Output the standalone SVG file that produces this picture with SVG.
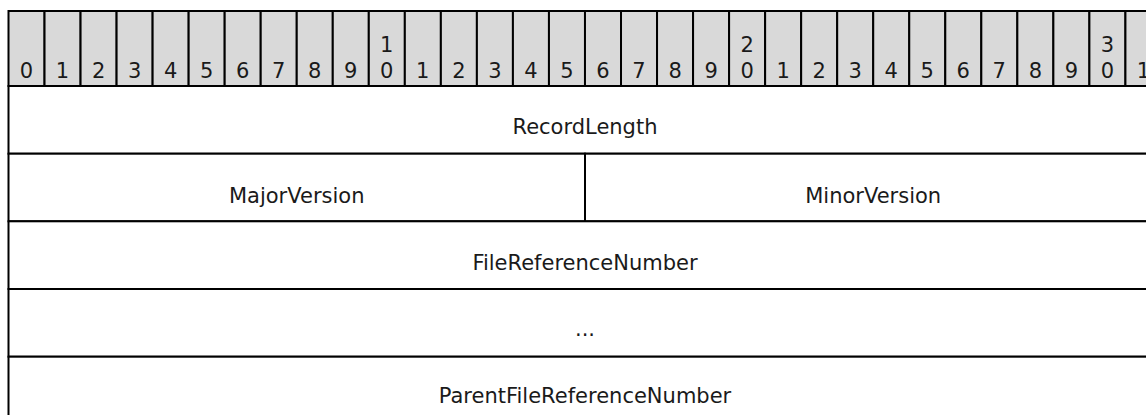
<svg xmlns="http://www.w3.org/2000/svg" width="1146" height="415" viewBox="0 0 1146 415">
<style>
.hdr{fill:#d9d9d9;stroke:#000;stroke-width:2}
.cell{fill:#fff;stroke:#000;stroke-width:2}
text{font-family:"DejaVu Sans","Liberation Sans",sans-serif;font-size:21px;fill:#1a1a1a;text-anchor:middle}
</style>
<g id="header">
<rect class="hdr" x="8.5" y="11" width="36.03" height="75"/>
<rect class="hdr" x="44.53" y="11" width="36.03" height="75"/>
<rect class="hdr" x="80.56" y="11" width="36.03" height="75"/>
<rect class="hdr" x="116.59" y="11" width="36.03" height="75"/>
<rect class="hdr" x="152.62" y="11" width="36.03" height="75"/>
<rect class="hdr" x="188.65" y="11" width="36.03" height="75"/>
<rect class="hdr" x="224.68" y="11" width="36.03" height="75"/>
<rect class="hdr" x="260.71" y="11" width="36.03" height="75"/>
<rect class="hdr" x="296.74" y="11" width="36.03" height="75"/>
<rect class="hdr" x="332.77" y="11" width="36.03" height="75"/>
<rect class="hdr" x="368.8" y="11" width="36.03" height="75"/>
<rect class="hdr" x="404.83" y="11" width="36.03" height="75"/>
<rect class="hdr" x="440.86" y="11" width="36.03" height="75"/>
<rect class="hdr" x="476.89" y="11" width="36.03" height="75"/>
<rect class="hdr" x="512.92" y="11" width="36.03" height="75"/>
<rect class="hdr" x="548.95" y="11" width="36.03" height="75"/>
<rect class="hdr" x="584.98" y="11" width="36.03" height="75"/>
<rect class="hdr" x="621.01" y="11" width="36.03" height="75"/>
<rect class="hdr" x="657.04" y="11" width="36.03" height="75"/>
<rect class="hdr" x="693.07" y="11" width="36.03" height="75"/>
<rect class="hdr" x="729.1" y="11" width="36.03" height="75"/>
<rect class="hdr" x="765.13" y="11" width="36.03" height="75"/>
<rect class="hdr" x="801.16" y="11" width="36.03" height="75"/>
<rect class="hdr" x="837.19" y="11" width="36.03" height="75"/>
<rect class="hdr" x="873.22" y="11" width="36.03" height="75"/>
<rect class="hdr" x="909.25" y="11" width="36.03" height="75"/>
<rect class="hdr" x="945.28" y="11" width="36.03" height="75"/>
<rect class="hdr" x="981.31" y="11" width="36.03" height="75"/>
<rect class="hdr" x="1017.34" y="11" width="36.03" height="75"/>
<rect class="hdr" x="1053.37" y="11" width="36.03" height="75"/>
<rect class="hdr" x="1089.4" y="11" width="36.03" height="75"/>
<rect class="hdr" x="1125.43" y="11" width="36.03" height="75"/>
<text x="26.5" y="77.7">0</text>
<text x="62.5" y="77.7">1</text>
<text x="98.6" y="77.7">2</text>
<text x="134.6" y="77.7">3</text>
<text x="170.6" y="77.7">4</text>
<text x="206.7" y="77.7">5</text>
<text x="242.7" y="77.7">6</text>
<text x="278.7" y="77.7">7</text>
<text x="314.8" y="77.7">8</text>
<text x="350.8" y="77.7">9</text>
<text x="386.8" y="51.7">1</text><text x="386.8" y="77.7">0</text>
<text x="422.8" y="77.7">1</text>
<text x="458.9" y="77.7">2</text>
<text x="494.9" y="77.7">3</text>
<text x="530.9" y="77.7">4</text>
<text x="567" y="77.7">5</text>
<text x="603" y="77.7">6</text>
<text x="639" y="77.7">7</text>
<text x="675.1" y="77.7">8</text>
<text x="711.1" y="77.7">9</text>
<text x="747.1" y="51.7">2</text><text x="747.1" y="77.7">0</text>
<text x="783.1" y="77.7">1</text>
<text x="819.2" y="77.7">2</text>
<text x="855.2" y="77.7">3</text>
<text x="891.2" y="77.7">4</text>
<text x="927.3" y="77.7">5</text>
<text x="963.3" y="77.7">6</text>
<text x="999.3" y="77.7">7</text>
<text x="1035.4" y="77.7">8</text>
<text x="1071.4" y="77.7">9</text>
<text x="1107.4" y="51.7">3</text><text x="1107.4" y="77.7">0</text>
<text x="1143.4" y="77.7">1</text>
</g>
<g id="RecordLength">
<rect class="cell" x="8.5" y="86" width="1153" height="67.7"/>
<text x="585" y="134.3">RecordLength</text>
</g>
<g id="MajorVersion">
<rect class="cell" x="8.5" y="153.7" width="576.5" height="67.6"/>
<text x="296.7" y="202.5">MajorVersion</text>
</g>
<g id="MinorVersion">
<rect class="cell" x="585" y="153.7" width="576.5" height="67.6"/>
<text x="873.2" y="202.5">MinorVersion</text>
</g>
<g id="FileReferenceNumber">
<rect class="cell" x="8.5" y="221.3" width="1153" height="67.7"/>
<text x="585" y="269.5">FileReferenceNumber</text>
</g>
<g id="FileReferenceNumberCont">
<rect class="cell" x="8.5" y="289" width="1153" height="67.7"/>
<text x="585" y="336">...</text>
</g>
<g id="ParentFileReferenceNumber">
<rect class="cell" x="8.5" y="356.7" width="1153" height="67.7"/>
<text x="585" y="403">ParentFileReferenceNumber</text>
</g>
</svg>
